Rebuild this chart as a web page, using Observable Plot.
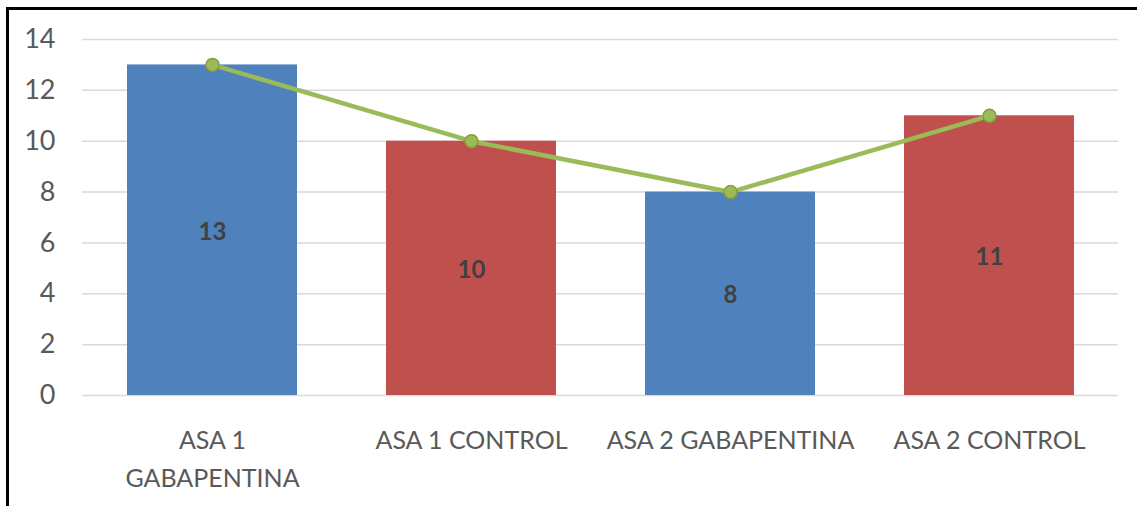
<!DOCTYPE html>
<html>
<head>
<meta charset="utf-8">
<script src="https://cdn.jsdelivr.net/npm/d3@7"></script>
<script src="https://cdn.jsdelivr.net/npm/@observablehq/plot@0.6"></script>
<style>
  html, body { margin: 0; padding: 0; background: #fff; }
  #wrap { position: relative; width: 1137px; height: 506px; overflow: hidden; }
  #frame { position: absolute; left: 6px; top: 7px; width: 1131px; height: 499px;
           border-top: 3px solid #000; border-left: 3px solid #000; box-sizing: border-box; pointer-events: none; }
</style>
</head>
<body>
<div id="wrap"><div id="chart"></div><div id="frame"></div></div>
<script>
const categories = ["ASA 1 GABAPENTINA", "ASA 1 CONTROL", "ASA 2 GABAPENTINA", "ASA 2 CONTROL"];
const tickLabels = ["ASA 1\nGABAPENTINA", "ASA 1 CONTROL", "ASA 2 GABAPENTINA", "ASA 2 CONTROL"];
const groups = ["GABAPENTINA", "CONTROL", "GABAPENTINA", "CONTROL"];
const values = [13, 10, 8, 11];
const yTicks = [0, 2, 4, 6, 8, 10, 12, 14];

const data = categories.map((c, i) => ({cat: c, group: groups[i], value: values[i], label: tickLabels[i]}));
const labelOf = new Map(categories.map((c, i) => [c, tickLabels[i]]));

const font = "Lato, 'Open Sans', sans-serif";

const chart = Plot.plot({
  width: 1137,
  height: 506,
  marginLeft: 82,
  marginRight: 19,
  marginTop: 39,
  marginBottom: 111,
  style: {fontFamily: font, fontSize: "25px", color: "#595959", background: "transparent"},
  x: {domain: categories, paddingInner: 0.344, paddingOuter: 0.172, label: null},
  y: {domain: [0, 14], label: null},
  color: {domain: ["GABAPENTINA", "CONTROL"], range: ["#4F81BD", "#C0504D"]},
  marks: [
    Plot.gridY(yTicks, {stroke: "#d9d9d9", strokeOpacity: 1, strokeWidth: 1.5}),
    Plot.axisY(yTicks, {tickSize: 0, tickPadding: 27, fontSize: 27, fill: "#595959", label: null}),
    Plot.axisX({tickSize: 0, tickPadding: 27, fontSize: 25, fill: "#595959", lineHeight: 1.52,
                tickFormat: d => labelOf.get(d), label: null}),
    Plot.barY(data, {x: "cat", y: "value", fill: "group"}),
    Plot.text(data, {x: "cat", y: d => d.value / 2, text: d => String(d.value), dy: 2,
                     fill: "#404040", fontWeight: "bold", fontSize: 24}),
    Plot.line(data, {x: "cat", y: "value", stroke: "#9BBB59", strokeWidth: 4.5}),
    Plot.dot(data, {x: "cat", y: "value", r: 6.5, fill: "#9BBB59", stroke: "#8A9B3E", strokeWidth: 1.5})
  ]
});
document.getElementById("chart").appendChild(chart);
</script>
</body>
</html>
